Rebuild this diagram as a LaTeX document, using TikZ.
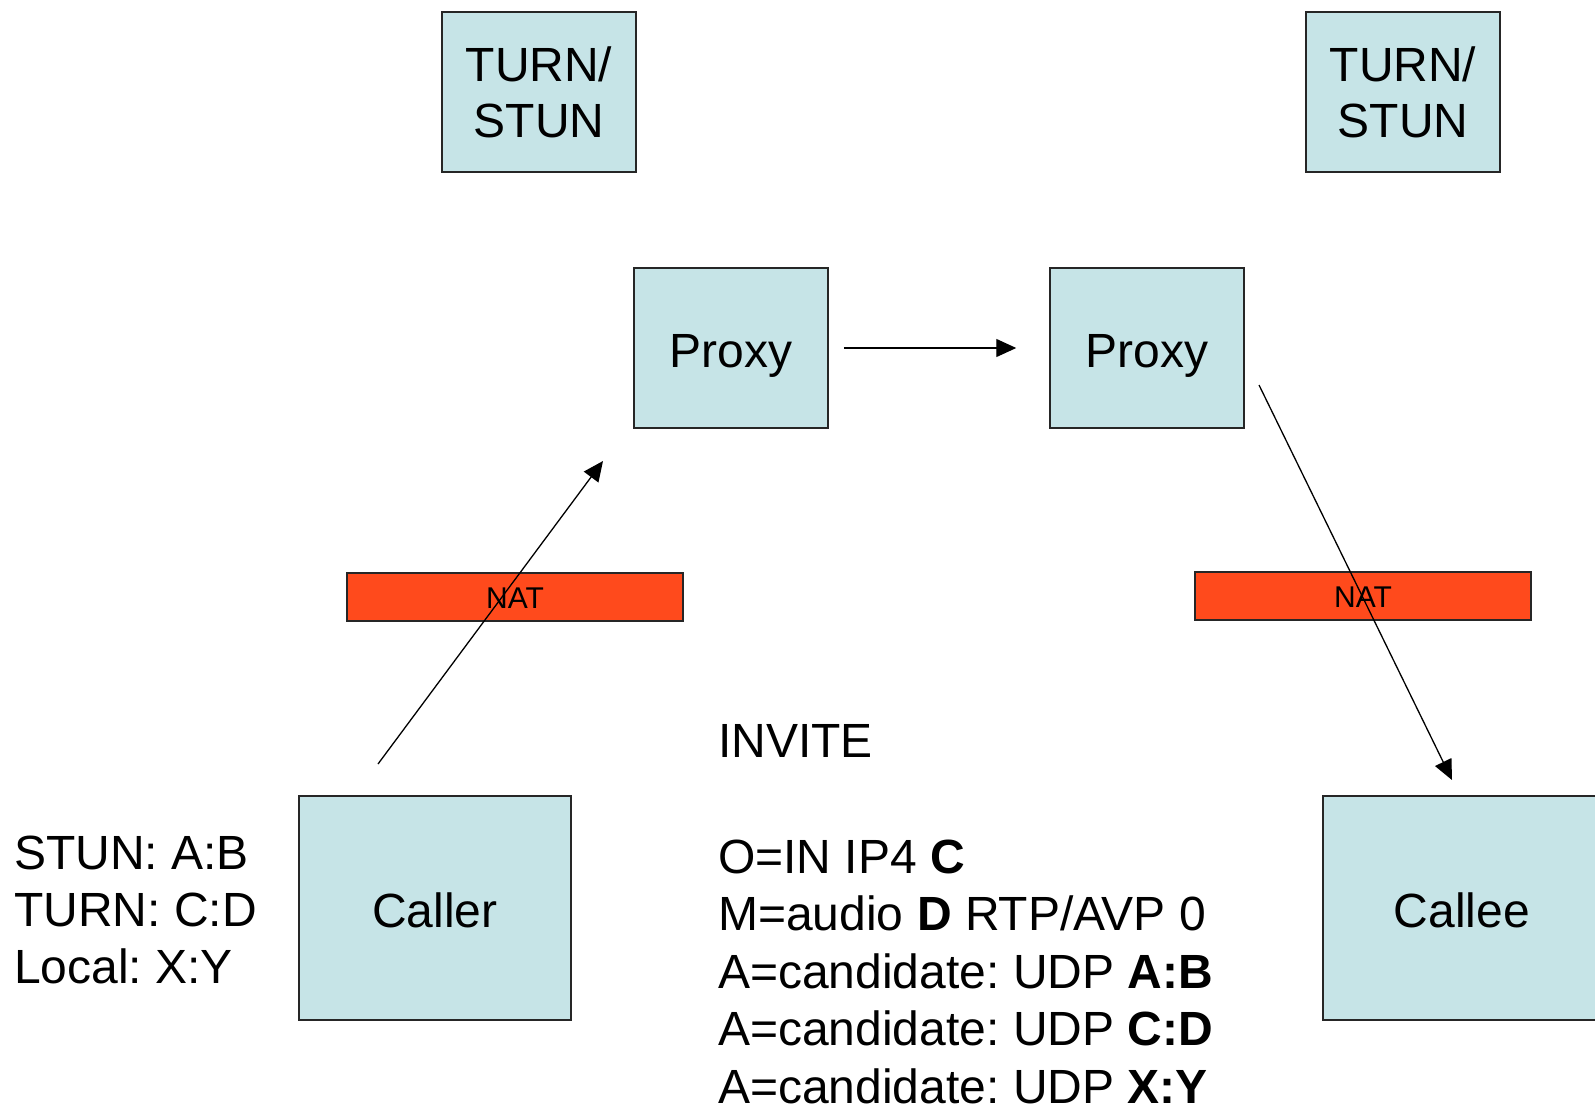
\documentclass[tikz,border=0pt]{standalone}
\usepackage{fontspec}
\setmainfont{Liberation Sans}
\usepackage{tikz}
\usetikzlibrary{arrows.meta}
\frenchspacing

\definecolor{boxblue}{RGB}{198,228,231}
\definecolor{natred}{RGB}{255,74,28}

\tikzset{
  srv/.style={draw=black!85, line width=1.5pt, fill=boxblue, inner sep=0pt,
    minimum width=194pt, minimum height=160pt,
    font=\fontsize{48}{56}\selectfont},
  onel/.style={text height=38pt, text depth=0pt},
  natbar/.style={draw=black!85, line width=1.5pt, fill=natred, inner sep=0pt,
    minimum width=336pt, minimum height=48pt, text height=22pt, text depth=0pt,
    font=\fontsize{30}{36}\selectfont},
  txt/.style={anchor=base west, inner sep=0pt, font=\fontsize{48}{56}\selectfont},
  msg/.style={line width=1.3pt, -{Triangle[length=20pt,width=18pt]}}
}

\begin{document}
\begin{tikzpicture}[x=1pt,y=-1pt]
\useasboundingbox (0,0) rectangle (1595,1111);
\clip (0,0) rectangle (1595,1111);
% servers
\node [srv, align=center] (turnA) at (539,92) {TURN/\\STUN};
\node [srv, align=center] (turnB) at (1403,92) {TURN/\\STUN};
\node [srv, onel] (proxyA) at (731,348) {Proxy};
\node [srv, onel] (proxyB) at (1147,348) {Proxy};
\node [srv, onel, minimum width=272pt, minimum height=224pt] (caller) at (435,908) {Caller};
\node [srv, onel, minimum width=278pt, minimum height=224pt] (callee) at (1462,908) {Callee};
% nat boxes
\node [natbar] (natA) at (515,597) {NAT};
\node [natbar] (natB) at (1363,596) {NAT};
% caller addresses
\node [txt] (stun) at (14,869) {STUN: A:B};
\node [txt] (turn) at (14,926) {TURN: C:D};
\node [txt] (local) at (14,983) {Local: X:Y};
% invite body
\node [txt] (invite) at (718,757) {INVITE};
\node [txt] (sdpO) at (718,873) {O=IN IP4 \textbf{C}};
\node [txt] (sdpM) at (718,930.5) {M=audio \textbf{D} RTP/AVP 0};
\node [txt] (candA) at (718,988) {A=candidate: UDP \textbf{A:B}};
\node [txt] (candB) at (718,1045.5) {A=candidate: UDP \textbf{C:D}};
\node [txt] (candC) at (718,1103) {A=candidate: UDP \textbf{X:Y}};
% signalling path
\coordinate (callerOut) at (378,764);
\coordinate (proxyAIn) at (603,461);
\coordinate (proxyBOut) at (1259,385);
\coordinate (calleeIn) at (1452,780);
\draw [msg] (callerOut) -- (proxyAIn);
\draw [msg, shorten <=15pt, shorten >=33pt] (proxyA.east) -- (proxyB.west);
\draw [msg] (proxyBOut) -- (calleeIn);
\end{tikzpicture}
\end{document}
